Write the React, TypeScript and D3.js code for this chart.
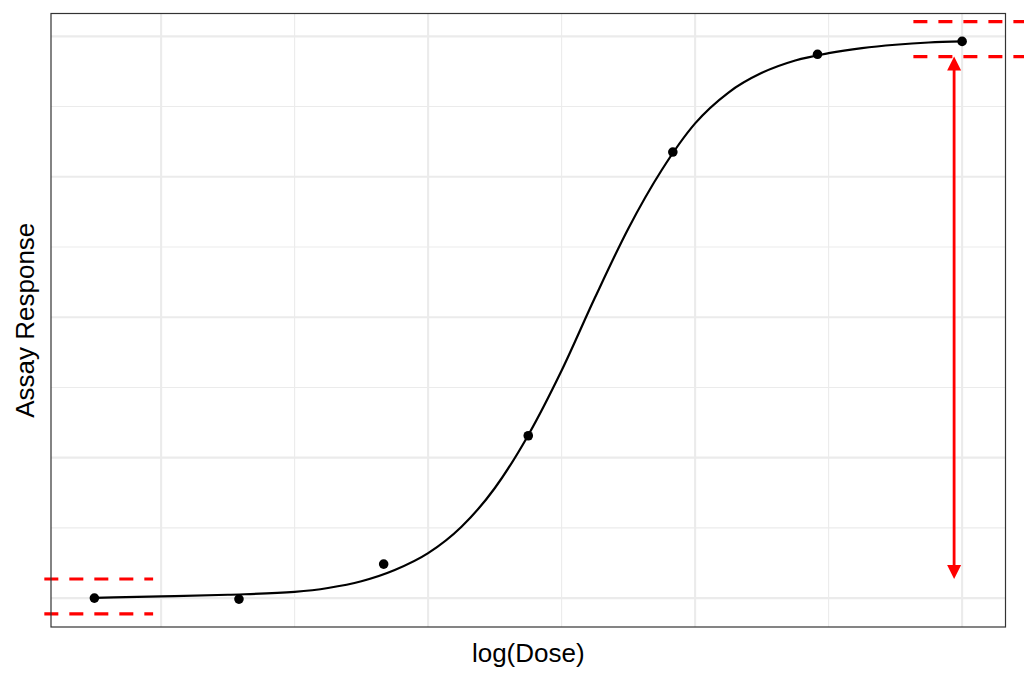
import * as d3 from "d3";

// observed assay points (log dose, normalised response)
const doseLog = [-0.5, 0.583, 1.667, 2.75, 3.833, 4.917, 6.0];
const response = [0.0, -0.0018, 0.0605, 0.289, 0.794, 0.968, 0.991];

// fitted 4PL curve, every 0.25 log units
const fitX = [
  -0.5, 0, 0.5, 1.0, 1.25, 1.5, 1.75, 2.0, 2.25, 2.5, 2.75, 3.0, 3.25, 3.5,
  3.75, 4.0, 4.25, 4.5, 4.75, 5.0, 5.25, 5.5, 5.75, 6.0,
];
const fitY = [
  0.0005, 0.003, 0.006, 0.011, 0.018, 0.03, 0.05, 0.08, 0.127, 0.196, 0.29,
  0.405, 0.535, 0.658, 0.762, 0.845, 0.9, 0.935, 0.957, 0.97, 0.979, 0.985,
  0.989, 0.991,
];

const xMajor = [0, 2, 4, 6];
const xMinor = [1, 3, 5];
const yMajor = [0, 0.25, 0.5, 0.75, 1];
const yMinor = [0.125, 0.375, 0.625, 0.875];

// asymptote bands and the span arrow
const bottomAsym = 0.003;
const topAsym = 0.995;
const bandHalf = 0.031;
const bottomBandX = [-0.875, -0.06];
const topBandX = [5.635, 8.0];
const arrowX = 5.94;

const W = 1024;
const H = 679;
const PANEL = { left: 51, right: 1005.5, top: 13.5, bottom: 627 };
const FONT = "'Liberation Sans', Arial, Helvetica, sans-serif";
const RED = "#FF0000";

function padded(vals: number[]): [number, number] {
  const [lo, hi] = d3.extent(vals) as [number, number];
  const pad = (hi - lo) * 0.05;
  return [lo - pad, hi + pad];
}

export default function App() {
  const x = d3.scaleLinear().domain(padded(doseLog)).range([PANEL.left, PANEL.right]);
  const y = d3.scaleLinear().domain(padded(response)).range([PANEL.bottom, PANEL.top]);

  const fit = d3
    .line<number>()
    .x((_, i) => x(fitX[i]))
    .y((d) => y(d))
    .curve(d3.curveMonotoneX);

  const bands = [
    { xs: bottomBandX, ys: [bottomAsym - bandHalf, bottomAsym + bandHalf] },
    { xs: topBandX, ys: [topAsym - bandHalf, topAsym + bandHalf] },
  ];

  const ax = x(arrowX);
  const aTop = y(topAsym - bandHalf);
  const aBot = y(bottomAsym + bandHalf);
  const head = 14;
  const halfW = 7;

  return (
    <svg
      width={W}
      height={H}
      style={{ position: "absolute", left: 0, top: 0, display: "block", background: "#fff" }}
    >
      <rect x={0} y={0} width={W} height={H} fill="#fff" />

      {/* grid */}
      <g>
        {yMinor.map((t) => (
          <line key={`ym${t}`} x1={PANEL.left} x2={PANEL.right} y1={y(t)} y2={y(t)} stroke="#EBEBEB" strokeWidth={1.1} />
        ))}
        {xMinor.map((t) => (
          <line key={`xm${t}`} x1={x(t)} x2={x(t)} y1={PANEL.top} y2={PANEL.bottom} stroke="#EBEBEB" strokeWidth={1.1} />
        ))}
        {yMajor.map((t) => (
          <line key={`yM${t}`} x1={PANEL.left} x2={PANEL.right} y1={y(t)} y2={y(t)} stroke="#EBEBEB" strokeWidth={2.1} />
        ))}
        {xMajor.map((t) => (
          <line key={`xM${t}`} x1={x(t)} x2={x(t)} y1={PANEL.top} y2={PANEL.bottom} stroke="#EBEBEB" strokeWidth={2.1} />
        ))}
      </g>

      {/* fitted curve and observations */}
      <path d={fit(fitY) ?? ""} fill="none" stroke="#000" strokeWidth={2.2} />
      {doseLog.map((d, i) => (
        <circle key={i} cx={x(d)} cy={y(response[i])} r={4.8} fill="#000" />
      ))}

      {/* asymptote bands */}
      {bands.map((b, i) =>
        b.ys.map((v) => (
          <line
            key={`b${i}-${v}`}
            x1={x(b.xs[0])}
            x2={x(b.xs[1])}
            y1={y(v)}
            y2={y(v)}
            stroke={RED}
            strokeWidth={3.2}
            strokeDasharray="14 11"
          />
        )),
      )}

      {/* span arrow */}
      <line x1={ax} x2={ax} y1={aTop + head - 1} y2={aBot - head + 1} stroke={RED} strokeWidth={2.8} />
      <polygon points={`${ax},${aTop} ${ax - halfW},${aTop + head} ${ax + halfW},${aTop + head}`} fill={RED} />
      <polygon points={`${ax},${aBot} ${ax - halfW},${aBot - head} ${ax + halfW},${aBot - head}`} fill={RED} />

      {/* panel border */}
      <rect
        x={PANEL.left}
        y={PANEL.top}
        width={PANEL.right - PANEL.left}
        height={PANEL.bottom - PANEL.top}
        fill="none"
        stroke="#333333"
        strokeWidth={1.2}
      />

      {/* axis titles */}
      <text
        x={(PANEL.left + PANEL.right) / 2}
        y={662}
        textAnchor="middle"
        fontFamily={FONT}
        fontSize={26}
        fill="#000"
      >
        log(Dose)
      </text>
      <text
        transform={`translate(33.5, ${(PANEL.top + PANEL.bottom) / 2}) rotate(-90)`}
        textAnchor="middle"
        fontFamily={FONT}
        fontSize={26}
        fill="#000"
      >
        Assay Response
      </text>
    </svg>
  );
}
